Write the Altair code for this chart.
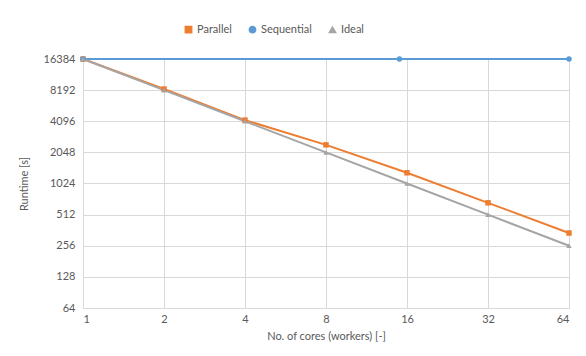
import altair as alt
import pandas as pd

cores = [1, 2, 4, 8, 16, 32, 64]
parallel = [16384, 8400, 4200, 2420, 1300, 666, 340]
ideal = [16384, 8192, 4096, 2048, 1024, 512, 256]
seq_cores = [1, 15, 64]
sequential = [16384, 16384, 16384]

series_names = ["Parallel", "Sequential", "Ideal"]
colors = ["#ED7D31", "#5B9BD5", "#A5A5A5"]
shapes = ["square", "circle", "triangle-up"]

x_ticks = [1, 2, 4, 8, 16, 32, 64]
y_ticks = [64, 128, 256, 512, 1024, 2048, 4096, 8192, 16384]

rows = []
for c, v in zip(cores, parallel):
    rows.append({"cores": c, "runtime": v, "series": "Parallel"})
for c, v in zip(seq_cores, sequential):
    rows.append({"cores": c, "runtime": v, "series": "Sequential"})
for c, v in zip(cores, ideal):
    rows.append({"cores": c, "runtime": v, "series": "Ideal"})
df = pd.DataFrame(rows)

FONT = "Lato"
TXT = "#595959"

x = alt.X("cores:Q", scale=alt.Scale(type="log", base=2, domain=[1, 64], nice=False),
          axis=alt.Axis(values=x_ticks, title="No. of cores (workers) [-]", format="d",
                        grid=True, gridColor="#D9D9D9", domainColor="#D9D9D9", ticks=False,
                        labelPadding=5, titlePadding=6, labelFontSize=11, titleFontSize=11,
                        labelColor=TXT, titleColor=TXT, labelFont=FONT, titleFont=FONT,
                        titleFontWeight="normal"))
y = alt.Y("runtime:Q", scale=alt.Scale(type="log", base=2, domain=[64, 16384], nice=False),
          axis=alt.Axis(values=y_ticks, title="Runtime [s]", format="d",
                        grid=True, gridColor="#D9D9D9", domainColor="#D9D9D9", ticks=False,
                        labelPadding=8, titlePadding=14, labelFontSize=11, titleFontSize=11,
                        labelColor=TXT, titleColor=TXT, labelFont=FONT, titleFont=FONT,
                        titleFontWeight="normal"))
color = alt.Color("series:N", scale=alt.Scale(domain=series_names, range=colors),
                  legend=alt.Legend(title=None, orient="none", legendX=100, legendY=-35,
                                    direction="horizontal", labelFont=FONT, labelFontSize=11,
                                    labelColor=TXT, symbolSize=40, columnPadding=14,
                                    labelOffset=3))
shape = alt.Shape("series:N", scale=alt.Scale(domain=series_names, range=shapes), legend=None)

base = alt.Chart(df)
lines = base.mark_line(strokeWidth=2).encode(x=x, y=y, color=color, detail="series:N",
                                             order=alt.Order("cores:Q"))
points = base.mark_point(filled=True, size=30, opacity=1).encode(x=x, y=y, color=color, shape=shape)

chart = (lines + points).properties(
    width=486, height=249,
    autosize=alt.AutoSizeParams(type="none"),
    padding={"left": 75, "top": 51, "right": 9, "bottom": 40},
    background="white",
).configure_view(stroke=None)

chart.save("out.html", embed_options={"renderer": "svg", "actions": False})
